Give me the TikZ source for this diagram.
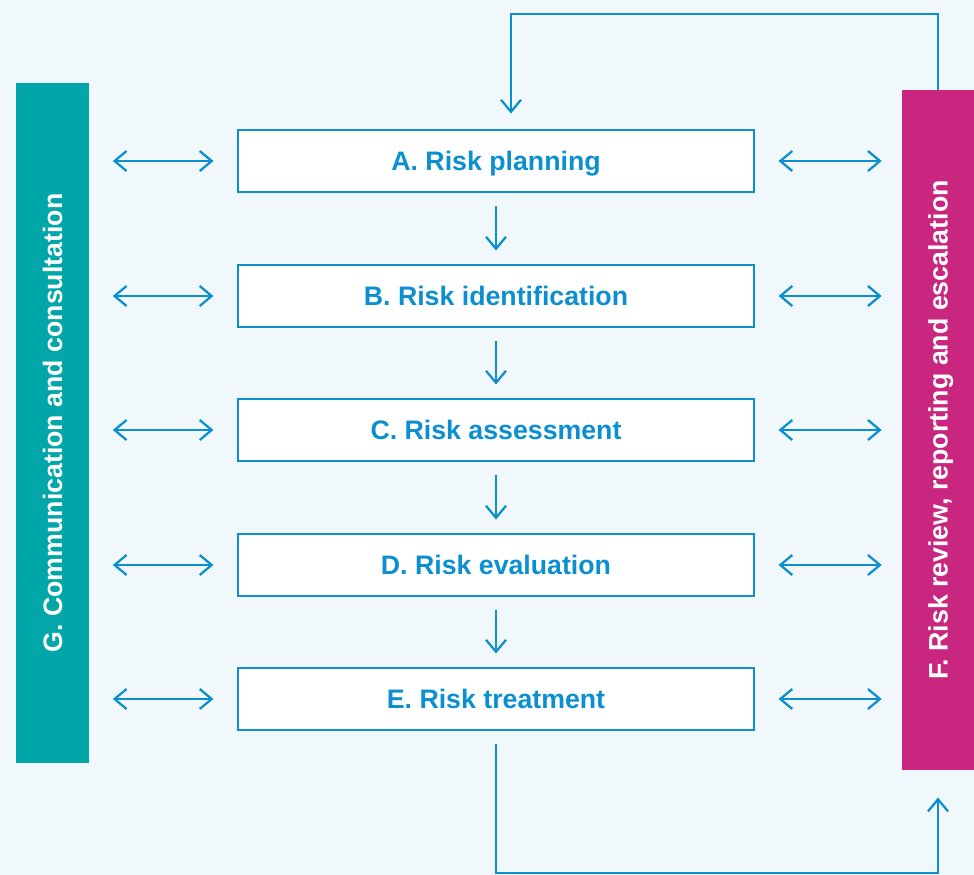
\documentclass[tikz,border=0pt]{standalone}
\usepackage{fontspec}
\setmainfont{Liberation Sans}
\usetikzlibrary{arrows.meta}
\definecolor{riskBlue}{HTML}{0B8FD0}
\definecolor{riskTeal}{HTML}{00A6A8}
\definecolor{riskMagenta}{HTML}{C8267F}
\definecolor{riskBack}{HTML}{F0F8FC}
\tikzset{
    STEP_BOX/.style={draw=riskBlue, fill=white, line width=1.8pt, shape=rectangle,
        minimum width=12.9cm, minimum height=1.55cm, inner sep=0mm,
        text height=13.6pt, text depth=0pt,
        text=riskBlue, font={\fontsize{19}{22}\selectfont\bfseries}},
    SIDE_BAR/.style={draw=none, shape=rectangle, minimum width=17cm,
        minimum height=1.8cm, inner sep=0mm, text=white, rotate=90,
        text height=13.6pt, text depth=0pt,
        font={\fontsize{19}{22}\selectfont\bfseries}},
    G_BAR/.style={SIDE_BAR, fill=riskTeal},
    F_BAR/.style={SIDE_BAR, fill=riskMagenta},
    EDGE/.style={draw=riskBlue, line width=1.6pt},
    ARROW/.style={EDGE, -{Straight Barb[length=0.3cm, width=0.5cm, line width=1.6pt]}},
    BOTH_ARROW/.style={EDGE, {Straight Barb[length=0.3cm, width=0.5cm, line width=1.6pt]}-{Straight Barb[length=0.3cm, width=0.5cm, line width=1.6pt]}}
}
\pgfdeclarelayer{backlayer}
\pgfdeclarelayer{edgelayer}
\pgfdeclarelayer{nodelayer}
\pgfsetlayers{backlayer,edgelayer,nodelayer,main}
\begin{document}
\begin{tikzpicture}[x=0.025cm, y=-0.025cm]
    \begin{pgfonlayer}{backlayer}
        \fill[riskBack] (0, 0) rectangle (974, 875);
    \end{pgfonlayer}
    \useasboundingbox (0, 0) rectangle (974, 875);
    \begin{pgfonlayer}{nodelayer}
        \node [STEP_BOX] (A) at (496, 161) {A. Risk planning};
        \node [STEP_BOX] (B) at (496, 296) {B. Risk identification};
        \node [STEP_BOX] (C) at (496, 430) {C. Risk assessment};
        \node [STEP_BOX] (D) at (496, 565) {D. Risk evaluation};
        \node [STEP_BOX] (E) at (496, 699) {E. Risk treatment};
        \node [G_BAR] (G) at (52.5, 423) {G. Communication and consultation};
        \node [F_BAR] (F) at (938, 430) {F. Risk review, reporting and escalation};
        \coordinate (topturn) at (511, 14);
        \coordinate (bottomturn) at (495, 873);
    \end{pgfonlayer}
    \begin{pgfonlayer}{edgelayer}
        \draw[ARROW, shorten <=0.33cm, shorten >=0.33cm] (A) to (B);
        \draw[ARROW, shorten <=0.33cm, shorten >=0.33cm] (B) to (C);
        \draw[ARROW, shorten <=0.33cm, shorten >=0.33cm] (C) to (D);
        \draw[ARROW, shorten <=0.33cm, shorten >=0.33cm] (D) to (E);
        \foreach \s in {A, B, C, D, E} {
            \draw[BOTH_ARROW, shorten <=0.6cm, shorten >=0.58cm] (\s.west -| G.south) to (\s.west);
            \draw[BOTH_ARROW, shorten <=0.58cm, shorten >=0.5cm] (\s.east) to (\s.east -| F.north);
        }
        \draw[ARROW, shorten >=0.38cm] (F.east) |- (topturn) to (topturn |- A.north);
        \draw[ARROW, shorten <=0.33cm, shorten >=0.68cm] (E.south) |- (bottomturn -| F.west) to (F.west);
    \end{pgfonlayer}
\end{tikzpicture}
\end{document}
